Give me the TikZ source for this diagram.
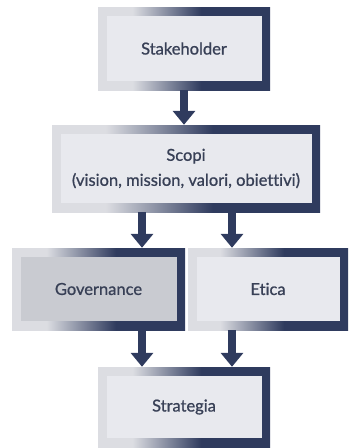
\documentclass[tikz,border=0pt]{standalone}
\usepackage{fontspec}
\setmainfont{Lato}
\newfontfamily\boxfont{Lato}[FakeBold=0.9, Ligatures=NoCommon]
\usetikzlibrary{arrows.meta}
\definecolor{scopinavy}{HTML}{2F3B5E}
\definecolor{scopilight}{HTML}{DCDDE2}
\definecolor{scopipale}{HTML}{E8E9EE}
\definecolor{scopigrey}{HTML}{C9CBD1}
\definecolor{scopitext}{HTML}{384056}
% frame runs from pale on the left to navy on the right
\pgfdeclarehorizontalshading{framegrad}{100bp}{color(0bp)=(scopilight); color(35bp)=(scopilight); color(55bp)=(scopinavy); color(100bp)=(scopinavy)}
\tikzset{
  panel/.style={rectangle, shade, shading=framegrad, inner sep=0pt, align=center,
                font=\boxfont\fontsize{16.5}{25}\selectfont, text=scopitext,
                path picture={\fill[#1] ([shift={(9pt,-9pt)}]path picture bounding box.north west)
                  rectangle ([shift={(-8pt,9pt)}]path picture bounding box.south east);}},
  panel/.default=scopipale,
  flow/.style={line width=8pt, draw=scopinavy, -{Triangle[width=22pt,length=14pt]}},
}

\begin{document}
\begin{tikzpicture}[x=1pt, y=1pt]
  \useasboundingbox (0,0) rectangle (351,-448);
  % boxes
  \node[panel, minimum width=172pt, minimum height=83pt] (stake) at (184,-48.5) {Stakeholder};
  \node[panel, minimum width=268pt, minimum height=87pt] (scopi) at (186,-168.5)
    {Scopi\\(vision, mission, valori, obiettivi)};
  \node[panel=scopigrey, minimum width=173pt, minimum height=82pt] (gov) at (98.5,-289) {Governance};
  \node[panel, minimum width=160pt, minimum height=82pt] (etica) at (268,-289) {Etica};
  \node[panel, minimum width=172pt, minimum height=80pt] (strat) at (184,-407) {Strategia};
  % arrow columns
  \coordinate (lx) at (142,0);
  \coordinate (rx) at (232,0);
  \draw[flow] (stake.south) -- (stake.south |- scopi.north);
  \draw[flow] (scopi.south -| lx) -- (gov.north -| lx);
  \draw[flow] (scopi.south -| rx) -- (etica.north -| rx);
  \draw[flow] (gov.south -| lx) -- (strat.north -| lx);
  \draw[flow] (etica.south -| rx) -- (strat.north -| rx);
\end{tikzpicture}
\end{document}
